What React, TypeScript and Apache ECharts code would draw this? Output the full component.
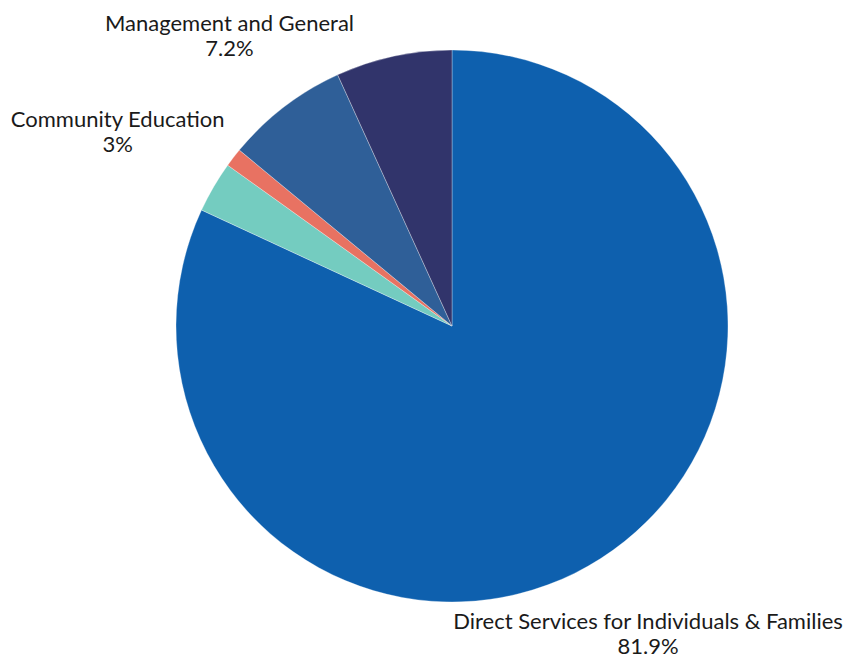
import React, { useEffect, useRef } from "react";
import * as echarts from "echarts";

const categories = [
  "Direct Services for Individuals & Families",
  "Community Education",
  "Other Programs",
  "Management and General",
  "Fundraising",
];
const values = [81.9, 3, 1.1, 7.2, 6.8];
const labelled = [true, true, false, true, false];
const colors = ["#0e60ae", "#74ccc0", "#e87262", "#2f5f98", "#31346b"];

const CX = 452;
const CY = 326;
const R = 276;
const LABEL_R = [364, 387, 0, 366, 0];

export default function App() {
  const ref = useRef<HTMLDivElement>(null);
  useEffect(() => {
    if (!ref.current) return;
    const chart = echarts.init(ref.current, undefined, { renderer: "svg" });
    const total = values.reduce((a, b) => a + b, 0);
    const mids: number[] = [];
    let acc = 0;
    values.forEach((v) => {
      mids.push(((acc + v / 2) / total) * Math.PI * 2);
      acc += v;
    });
    chart.setOption({
      animation: false,
      backgroundColor: "#ffffff",
      series: [
        {
          type: "pie",
          center: [CX, CY],
          radius: [0, R],
          startAngle: 90,
          clockwise: true,
          data: categories.map((name, i) => ({
            name,
            value: values[i],
            itemStyle: { color: colors[i] },
            label: { show: labelled[i] },
          })),
          itemStyle: { borderColor: "rgba(255,255,255,0.5)", borderWidth: 0.6 },
          label: {
            show: true,
            position: "outside",
            formatter: "{b}\n{c}%",
            fontFamily: "Lato",
            fontSize: 22,
            lineHeight: 25,
            color: "#1a1a1a",
            overflow: "none",
          },
          labelLine: { show: false },
          labelLayout: (p: any) => {
            const i = p.dataIndex;
            const a = mids[i];
            return {
              x: CX + LABEL_R[i] * Math.sin(a),
              y: CY - LABEL_R[i] * Math.cos(a),
              align: "center",
              verticalAlign: "middle",
            };
          },
          emphasis: { disabled: true },
        },
      ],
    });
    return () => chart.dispose();
  }, []);
  return (
    <div
      ref={ref}
      style={{ position: "fixed", left: 0, top: 0, width: 857, height: 658 }}
    />
  );
}
